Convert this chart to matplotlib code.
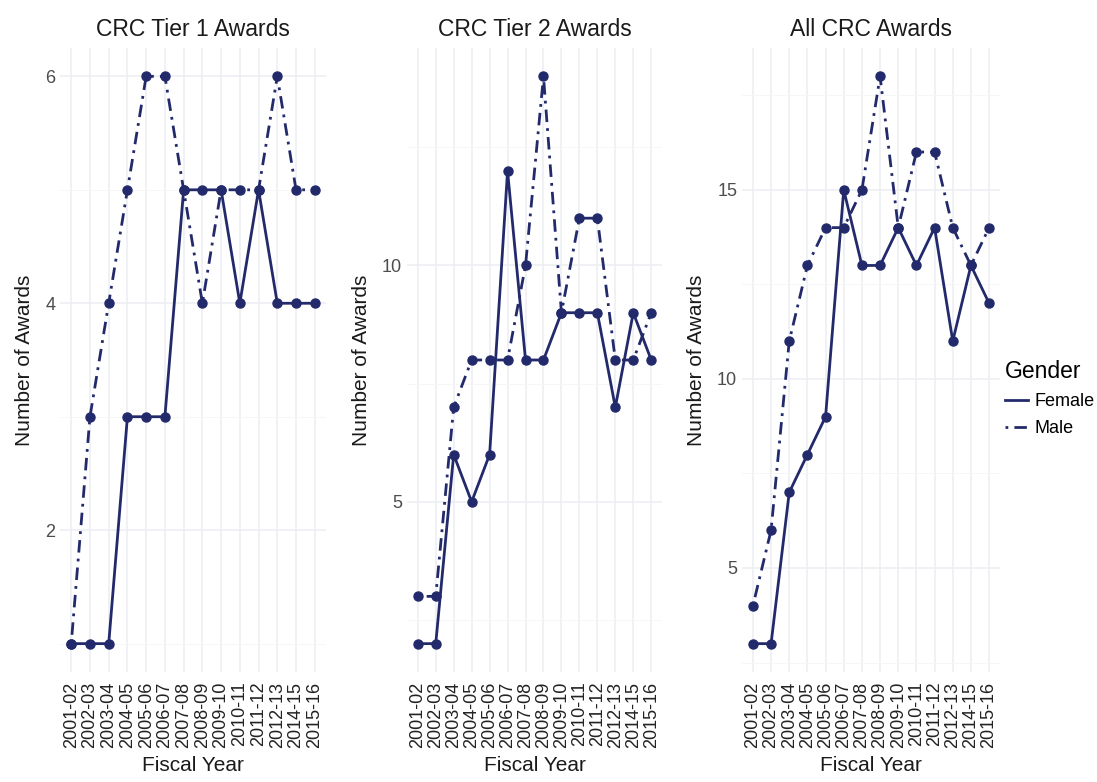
import matplotlib
matplotlib.use("Agg")
import matplotlib.pyplot as plt
from matplotlib.ticker import FixedLocator
from matplotlib.lines import Line2D

plt.rcParams["font.family"] = ["Liberation Sans", "DejaVu Sans"]

years = ["2001-02", "2002-03", "2003-04", "2004-05", "2005-06", "2006-07",
         "2007-08", "2008-09", "2009-10", "2010-11", "2011-12", "2012-13",
         "2014-15", "2015-16"]

tier1_female = [1, 1, 1, 3, 3, 3, 5, 5, 5, 4, 5, 4, 4, 4]
tier1_male = [1, 3, 4, 5, 6, 6, 5, 4, 5, 5, 5, 6, 5, 5]

tier2_female = [2, 2, 6, 5, 6, 12, 8, 8, 9, 9, 9, 7, 9, 8]
tier2_male = [3, 3, 7, 8, 8, 8, 10, 14, 9, 11, 11, 8, 8, 9]

all_female = [3, 3, 7, 8, 9, 15, 13, 13, 14, 13, 14, 11, 13, 12]
all_male = [4, 6, 11, 13, 14, 14, 15, 18, 14, 16, 16, 14, 13, 14]

titles = ["CRC Tier 1 Awards", "CRC Tier 2 Awards", "All CRC Awards"]
major_ticks = [[2, 4, 6], [5, 10], [5, 10, 15]]
minor_ticks = [[1, 3, 5], [2.5, 7.5, 12.5], [2.5, 7.5, 12.5, 17.5]]

NAVY = "#232a6b"
DOTDASH = (1.0, 2.2, 4.5, 2.2)
W, H = 1097, 782
fig = plt.figure(figsize=(W / 100, H / 100), dpi=100)
fig.patch.set_facecolor("white")

# panel boxes in pixels: (left, right)
boxes = [(60, 326), (407, 662), (742, 1000)]
top_px, bot_px = 48, 672

series = [(tier1_female, tier1_male), (tier2_female, tier2_male),
          (all_female, all_male)]

x = list(range(len(years)))
for i, ((l, r), (fem, mal)) in enumerate(zip(boxes, series)):
    ax = fig.add_axes([l / W, 1 - bot_px / H, (r - l) / W, (bot_px - top_px) / H])
    ax.set_facecolor("white")
    for s in ax.spines.values():
        s.set_visible(False)

    ax.plot(x, fem, color=NAVY, lw=2.0, ls="-", marker="o", ms=6.5,
            label="Female", zorder=3)
    ax.plot(x, mal, color=NAVY, lw=2.0, marker="o", ms=6.5,
            dashes=DOTDASH, label="Male", zorder=3)

    lo = min(min(fem), min(mal))
    hi = max(max(fem), max(mal))
    pad = (hi - lo) * 0.05
    ax.set_ylim(lo - pad, hi + pad)
    ax.set_xlim(-0.6, len(years) - 1 + 0.6)

    ax.yaxis.set_major_locator(FixedLocator(major_ticks[i]))
    ax.yaxis.set_minor_locator(FixedLocator(minor_ticks[i]))
    ax.set_xticks(x)
    ax.set_xticklabels(years, rotation=90, fontsize=13, color="#222222")
    ax.tick_params(axis="y", labelsize=13, labelcolor="#4d4d4d")
    ax.tick_params(axis="x", pad=7)
    ax.tick_params(which="both", length=0)

    ax.grid(which="major", axis="both", color="#ebeef2", lw=1.1, zorder=0)
    ax.grid(which="minor", axis="y", color="#f4f6f8", lw=0.7, zorder=0)
    ax.set_axisbelow(True)

    ax.set_title(titles[i], fontsize=16.5, color="#1a1a1a", pad=9)
    ax.set_xlabel("Fiscal Year", fontsize=15, color="#1a1a1a", labelpad=6)
    ax.set_ylabel("Number of Awards", fontsize=15, color="#1a1a1a", labelpad=8)

leg_handles = [Line2D([], [], color=NAVY, lw=2.0, ls="-"),
               Line2D([], [], color=NAVY, lw=2.0, dashes=DOTDASH)]
leg = fig.legend(leg_handles, ["Female", "Male"], title="Gender",
                 loc="upper left", bbox_to_anchor=(1005 / W, 1 - 360 / H),
                 frameon=False, fontsize=13, title_fontsize=16.5,
                 handlelength=1.3, handletextpad=0.35, labelspacing=0.55,
                 borderaxespad=0, borderpad=0)
leg._legend_box.align = "left"

fig.savefig("out.png", dpi=100, facecolor="white")
